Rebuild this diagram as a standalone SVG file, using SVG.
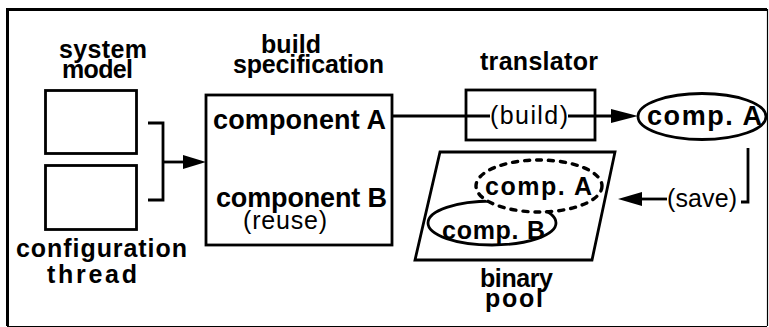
<svg xmlns="http://www.w3.org/2000/svg" width="769" height="327" viewBox="0 0 769 327">
  <style>
    .frame { stroke: #000; fill: none; }
    .box { fill: #fff; stroke: #000; stroke-width: 2.8; }
    .line { fill: none; stroke: #000; stroke-width: 2.8; stroke-linecap: butt; stroke-linejoin: miter; }
    .head { fill: #000; stroke: none; }
    .lbl { font-family: "Liberation Sans", Arial, sans-serif; font-weight: bold; font-size: 25px; fill: #000; }
    .big { font-size: 27px; }
    .reg { font-weight: normal; font-size: 25px; }
    .dash { fill: #fff; stroke: #000; stroke-width: 3.4; stroke-dasharray: 5 7; stroke-linecap: round; }
  </style>

  <rect width="769" height="327" fill="#fff"/>

  <!-- outer frame -->
  <g id="frame">
    <line class="frame" x1="7.5" y1="9.5" x2="767" y2="9.5" stroke-width="3"/>
    <line class="frame" x1="7.5" y1="8" x2="7.5" y2="326" stroke-width="3"/>
    <line class="frame" x1="767.5" y1="9" x2="767.5" y2="326" stroke-width="1.2"/>
    <line class="frame" x1="7" y1="326.5" x2="767" y2="326.5" stroke-width="1" stroke="#bbb"/>
  </g>

  <!-- system model -->
  <g id="system-model">
    <rect class="box" x="45.5" y="90.5" width="91" height="63"/>
    <text class="lbl" x="59" y="58" textLength="88" lengthAdjust="spacing">system</text>
    <text class="lbl" x="62" y="78" textLength="71" lengthAdjust="spacing">model</text>
  </g>

  <!-- configuration thread -->
  <g id="configuration-thread">
    <rect class="box" x="45.5" y="165.5" width="91" height="64"/>
    <text class="lbl" x="16" y="257" textLength="171" lengthAdjust="spacing">configuration</text>
    <text class="lbl" x="47" y="283" textLength="90" lengthAdjust="spacing">thread</text>
  </g>

  <!-- build specification -->
  <g id="build-specification">
    <rect class="box" x="206" y="95" width="186" height="150"/>
    <text class="lbl" x="261" y="53" textLength="60" lengthAdjust="spacing">build</text>
    <text class="lbl" x="233" y="73" textLength="151" lengthAdjust="spacing">specification</text>
    <text class="lbl big" x="213" y="129" textLength="173" lengthAdjust="spacing">component A</text>
    <text class="lbl big" x="216" y="207" textLength="171" lengthAdjust="spacing">component B</text>
    <text class="lbl reg" x="243" y="229" textLength="84" lengthAdjust="spacing">(reuse)</text>
  </g>

  <!-- translator -->
  <g id="translator">
    <rect class="box" x="466" y="90" width="129" height="50"/>
    <text class="lbl" x="480" y="70" textLength="118" lengthAdjust="spacing">translator</text>
  </g>

  <!-- compiled component A -->
  <g id="comp-a">
    <ellipse class="box" cx="702" cy="116.5" rx="64" ry="23"/>
    <text class="lbl big" x="647" y="125" textLength="115" lengthAdjust="spacing">comp. A</text>
  </g>

  <!-- binary pool -->
  <g id="binary-pool">
    <polygon class="box" points="440,152 615,152 592,260 415,260"/>
    <ellipse class="box" cx="492" cy="223" rx="64" ry="22"/>
    <ellipse class="dash" cx="539" cy="186" rx="63" ry="26"/>
    <text class="lbl" x="485" y="195" textLength="107" lengthAdjust="spacing">comp. A</text>
    <text class="lbl" x="442" y="239" textLength="103" lengthAdjust="spacing">comp. B</text>
    <text class="lbl" x="480" y="287" textLength="73" lengthAdjust="spacing">binary</text>
    <text class="lbl" x="485" y="307" textLength="58" lengthAdjust="spacing">pool</text>
  </g>

  <!-- connectors -->
  <g id="connectors">
    <!-- bracket joining the two inputs -->
    <polyline class="line" points="148,123 163,123 163,200 148,200"/>
    <line class="line" x1="163" y1="162" x2="186" y2="162"/>
    <polygon class="head" points="206,162 183,155 183,169"/>

    <!-- component A through translator -->
    <line class="line" x1="392" y1="116" x2="490" y2="116"/>
    <line class="line" x1="568" y1="116" x2="614" y2="116"/>
    <polygon class="head" points="638,116 611,109 611,123"/>
    <text class="lbl reg" x="490" y="124" textLength="78" lengthAdjust="spacing">(build)</text>

    <!-- save back into the pool -->
    <polyline class="line" points="748,148 748,202 741,202"/>
    <line class="line" x1="667" y1="199" x2="638" y2="199"/>
    <polygon class="head" points="618,199 642,192 642,206"/>
    <text class="lbl reg" x="667" y="207" textLength="70" lengthAdjust="spacing">(save)</text>
  </g>
</svg>
